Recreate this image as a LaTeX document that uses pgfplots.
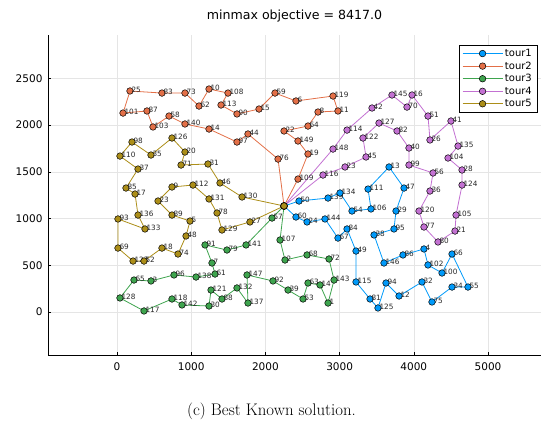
\documentclass[border=0pt]{standalone}
\usepackage{fontspec}
\usepackage{pgfplots}
\pgfplotsset{compat=1.18}
\newfontfamily\dejavu{DejaVu Sans}
\newcommand\lbl{\dejavu\fontsize{7.3}{8}\selectfont}
\definecolor{c1}{RGB}{0,154,250}
\definecolor{c2}{RGB}{227,111,71}
\definecolor{c3}{RGB}{62,164,78}
\definecolor{c4}{RGB}{195,113,210}
\definecolor{c5}{RGB}{172,142,24}
\pgfplotsset{tour/.style={color=#1, line width=0.8pt, mark=*, mark size=3.3pt,
  mark options={draw=black, fill=#1, line width=0.5pt, solid},
  nodes near coords, point meta=explicit symbolic,
  nodes near coords align={horizontal},
  every node near coord/.append style={anchor=west, inner sep=0pt, xshift=1.3pt, yshift=0.8pt, text=black!85, font=\lbl}}}
\begin{document}
\begin{tikzpicture}
\path[use as bounding box] (0,0) rectangle (543pt,430pt);
\begin{axis}[at={(48pt,75pt)}, anchor=south west, width=493pt, height=320pt, scale only axis,
  xmin=-930, xmax=5714, ymin=-460, ymax=2963,
  axis x line*=bottom, axis y line*=left,
  axis line style={black, line width=0.6pt},
  xtick={0,1000,...,5000}, xticklabels={0,1000,2000,3000,4000,5000},
  ytick={0,500,...,2500}, yticklabels={0,500,1000,1500,2000,2500},
  grid=major, major grid style={black!10, line width=0.5pt},
  tick align=inside, major tick length=3pt, tick style={black, line width=0.5pt},
  ticklabel style={font=\dejavu\fontsize{10.5}{12}\selectfont},
  xticklabel style={yshift=-4pt},
  yticklabel style={xshift=-2pt},
  legend style={at={(0.992,0.969)}, anchor=north east, draw=black, line width=0.5pt, fill=white,
    font=\dejavu\fontsize{10}{11}\selectfont, inner xsep=3pt, inner ysep=2pt, row sep=-0.3pt, cells={anchor=west}},
  legend image code/.code={\draw[mark repeat=2,mark phase=2,#1] plot coordinates {(0pt,0pt) (20pt,0pt) (40pt,0pt)};},
]
\addplot[tour=c1] coordinates {
(2251,1134)[{}] (2453,1187)[50] (2844,1219)[139] (3005,1273)[134] (3167,1080)[54]
(3423,1102)[106] (3383,1315)[111] (3666,1551)[13] (3868,1326)[47] (3760,1080)[29]
(3733,888)[95] (3464,824)[38] (3598,524)[146] (3854,610)[86] (4137,674)[4]
(4191,503)[102] (4380,417)[100] (4515,620)[66] (4730,267)[55] (4515,267)[34]
(4245,107)[75] (4110,321)[32] (3801,171)[12] (3625,310)[94] (3517,43)[125]
(3410,139)[81] (3221,321)[115] (3221,652)[49] (3100,888)[84] (2978,791)[67]
(2803,995)[144] (2561,963)[24] (2412,1016)[60] (2251,1134)[{}]
};
\addlegendentry{tour1}
\addplot[tour=c2] coordinates {
(2251,1134)[{}] (2439,1422)[109] (2574,1690)[19] (2439,1829)[149] (2251,1936)[22]
(2574,1989)[64] (2709,2139)[8] (2978,2150)[11] (2911,2310)[119] (2412,2257)[6]
(2129,2342)[59] (1914,2171)[15] (1617,2118)[90] (1402,2214)[113] (1496,2342)[108]
(1240,2385)[10] (1105,2203)[62] (916,2342)[73] (606,2342)[83] (175,2364)[25]
(81,2128)[101] (404,2150)[87] (485,1979)[103] (701,2096)[58] (916,2011)[140]
(1240,1957)[14] (1617,1818)[97] (1765,1904)[44] (2170,1636)[76] (2251,1134)[{}]
};
\addlegendentry{tour2}
\addplot[tour=c3] coordinates {
(2251,1134)[{}] (2089,1005)[57] (1739,717)[141] (1482,663)[79] (1186,717)[91]
(1280,524)[7] (1321,406)[61] (1065,374)[138] (768,396)[96] (458,332)[3]
(229,342)[65] (40,150)[128] (364,11)[117] (741,139)[118] (876,75)[142]
(1240,64)[30] (1267,235)[121] (1415,139)[88] (1617,257)[132] (1765,96)[137]
(1752,396)[147] (2102,332)[92] (2305,235)[39] (2507,139)[53] (2574,310)[63]
(2736,289)[14] (2844,96)[1] (2925,342)[143] (2857,567)[72] (2561,610)[68]
(2264,556)[2] (2197,770)[107] (2251,1134)[{}]
};
\addlegendentry{tour3}
\addplot[tour=c4] coordinates {
(2251,1134)[{}] (2911,1743)[148] (3100,1946)[114] (3437,2182)[42] (3706,2321)[145]
(3908,2192)[70] (3976,2321)[16] (4191,2096)[51] (4218,1840)[26] (4501,2043)[41]
(4596,1775)[135] (4461,1647)[104] (4650,1519)[28] (4650,1358)[124] (4569,1037)[105]
(4555,866)[21] (4326,749)[80] (4137,909)[77] (4070,1080)[120] (4218,1294)[36]
(4259,1487)[56] (3935,1572)[99] (3935,1754)[40] (3774,1936)[82] (3531,2021)[127]
(3315,1861)[122] (3356,1658)[45] (3073,1551)[23] (2776,1465)[116] (2251,1134)[{}]
};
\addlegendentry{tour4}
\addplot[tour=c5] coordinates {
(2251,1134)[{}] (1685,1230)[130] (1388,1380)[46] (1226,1583)[31] (863,1572)[71]
(916,1711)[20] (741,1861)[126] (458,1679)[35] (202,1818)[98] (40,1668)[110]
(283,1529)[37] (121,1326)[85] (243,1262)[17] (283,1037)[136] (377,888)[133]
(13,995)[93] (13,684)[69] (216,545)[123] (364,545)[52] (606,684)[18]
(822,620)[74] (930,813)[48] (984,973)[5] (741,1037)[89] (553,1187)[23]
(741,1337)[9] (1024,1358)[112] (1240,1209)[131] (1348,1059)[78] (1415,877)[129]
(1792,963)[27] (2251,1134)[{}]
};
\addlegendentry{tour5}
\end{axis}
\node[anchor=base, font=\dejavu\fontsize{12.6}{14}\selectfont] at (294.5pt,410pt) {minmax objective = 8417.0};
\node[anchor=base, font=\fontsize{16.8}{20}\selectfont] at (271.5pt,14pt) {(c) Best Known solution.};
\end{tikzpicture}
\end{document}
